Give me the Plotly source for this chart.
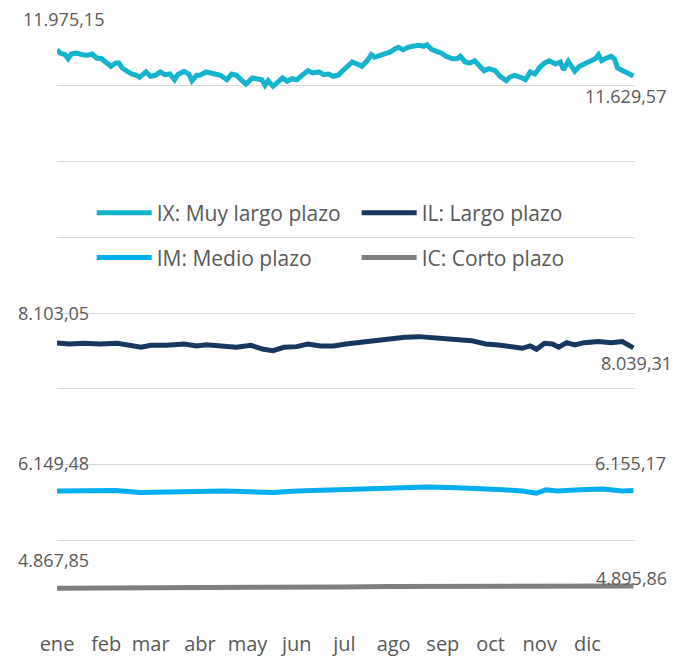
import plotly.graph_objects as go

# ---------------- data ----------------
month_days = [0, 31, 59, 90, 120, 151, 181, 212, 243, 273, 304, 334]
month_labels = ["ene", "feb", "mar", "abr", "may", "jun", "jul", "ago", "sep", "oct", "nov", "dic"]

ix_days = [0, 2, 5, 7, 9, 12, 16, 19, 22, 25, 28, 31, 34, 37, 39, 41, 44, 47, 50, 52, 54, 56, 59, 62, 65,
           68, 71, 74, 76, 80, 83, 85, 88, 90, 94, 98, 103, 107, 110, 113, 116, 119, 123, 126, 129, 131,
           133, 136, 138, 142, 145, 148, 151, 154, 158, 161, 165, 168, 171, 174, 177, 180, 186, 189, 192,
           195, 198, 200, 203, 207, 210, 213, 215, 218, 221, 224, 228, 231, 233, 236, 239, 242, 245, 249,
           252, 254, 257, 260, 263, 266, 269, 272, 276, 279, 283, 285, 288, 292, 295, 298, 301, 304, 307,
           310, 314, 317, 319, 322, 326, 329, 332, 336, 339, 341, 343, 346, 349, 351, 353, 357, 360, 363]
ix_values = [11975.15, 11932, 11910, 11857, 11919, 11932, 11910, 11902, 11919, 11866, 11857, 11814, 11757,
             11800, 11800, 11734, 11691, 11655, 11638, 11612, 11646, 11682, 11625, 11638, 11682, 11646,
             11655, 11580, 11646, 11691, 11655, 11567, 11638, 11638, 11682, 11655, 11638, 11580, 11655,
             11638, 11580, 11523, 11602, 11593, 11580, 11506, 11567, 11493, 11536, 11602, 11559, 11593,
             11580, 11638, 11699, 11668, 11682, 11646, 11655, 11625, 11638, 11699, 11814, 11787, 11757,
             11823, 11910, 11876, 11902, 11919, 11946, 11989, 12008, 11976, 12008, 12021, 12034, 12021,
             12042, 11976, 11955, 11932, 11889, 11857, 11857, 11889, 11814, 11800, 11831, 11757, 11699,
             11725, 11699, 11625, 11567, 11612, 11638, 11612, 11580, 11682, 11655, 11744, 11800, 11831,
             11787, 11814, 11712, 11823, 11691, 11757, 11787, 11831, 11857, 11910, 11831, 11866, 11889,
             11857, 11734, 11691, 11668, 11629.57]

il_days = [0, 8, 17, 27, 38, 46, 53, 59, 69, 80, 88, 94, 105, 113, 122, 130, 136, 143, 151, 158, 166, 174,
           182, 194, 207, 219, 228, 236, 249, 261, 270, 278, 286, 293, 298, 302, 307, 312, 316, 321, 326,
           332, 341, 349, 356, 360, 363]
il_values = [8103.05, 8091, 8100, 8091, 8100, 8065, 8048, 8074, 8074, 8091, 8065, 8082, 8056, 8048, 8074,
             8021, 8003, 8048, 8056, 8091, 8065, 8065, 8091, 8122, 8153, 8180, 8188, 8180, 8153, 8135,
             8091, 8078, 8056, 8034, 8065, 8021, 8100, 8091, 8048, 8108, 8078, 8108, 8122, 8108, 8122,
             8065, 8039.31]

im_days = [0, 20, 37, 52, 68, 88, 105, 122, 136, 151, 165, 179, 194, 213, 233, 252, 267, 281, 293, 302,
           308, 315, 330, 344, 356, 363]
im_values = [6149.48, 6149, 6158, 6130, 6140, 6149, 6149, 6140, 6130, 6149, 6158, 6158, 6176, 6194, 6202,
             6194, 6185, 6167, 6149, 6122, 6167, 6149, 6167, 6176, 6149, 6155.17]

ic_days = [0, 30, 60, 90, 120, 150, 180, 210, 240, 270, 300, 320, 345, 363]
ic_values = [4867.85, 4868, 4872, 4875, 4878, 4881, 4884, 4888, 4890, 4891, 4888, 4892, 4894, 4895.86]

series_names = ["IX: Muy largo plazo", "IL: Largo plazo", "IM: Medio plazo", "IC: Corto plazo"]
series_colors = ["#14B4CE", "#17375E", "#00AEEF", "#7F7F7F"]

start_labels = ["11.975,15", "8.103,05", "6.149,48", "4.867,85"]
end_labels = ["11.629,57", "8.039,31", "6.155,17", "4.895,86"]

# ---------------- figure ----------------
TEXT = "#595959"
FONT = "Open Sans"

fig = go.Figure()
all_days = [ix_days, il_days, im_days, ic_days]
all_vals = [ix_values, il_values, im_values, ic_values]
legend_ids = ["legend", "legend", "legend2", "legend2"]
for name, color, d, v, lg in zip(series_names, series_colors, all_days, all_vals, legend_ids):
    fig.add_trace(go.Scatter(x=d, y=v, name=name, mode="lines",
                             line=dict(color=color, width=5, shape="linear"),
                             legend=lg, hoverinfo="skip"))

# value labels at first / last point
start_shift = [(6, 31), (-4, 30), (-4, 28), (-4, 28)]
end_shift = [(-8, -20), (3, -15), (-3, 28), (-2, 8)]
for i in range(4):
    d, v = all_days[i], all_vals[i]
    fig.add_annotation(x=d[0], y=v[0], text=start_labels[i], showarrow=False,
                       xshift=start_shift[i][0], yshift=start_shift[i][1],
                       font=dict(family=FONT, size=18, color=TEXT))
    fig.add_annotation(x=d[-1], y=v[-1], text=end_labels[i], showarrow=False,
                       xshift=end_shift[i][0], yshift=end_shift[i][1],
                       font=dict(family=FONT, size=18, color=TEXT))

legend_common = dict(orientation="h", xanchor="left", yanchor="middle",
                     bgcolor="rgba(0,0,0,0)", entrywidth=195, entrywidthmode="pixels",
                     font=dict(family=FONT, size=21, color=TEXT), itemwidth=55)
fig.update_layout(
    width=674, height=658,
    margin=dict(l=57, r=39, t=10, b=42),
    paper_bgcolor="white", plot_bgcolor="white",
    font=dict(family=FONT, color=TEXT),
    showlegend=True,
    legend=dict(x=0.060, y=0.665, **legend_common),
    legend2=dict(x=0.060, y=0.591, **legend_common),
    xaxis=dict(range=[0, 364], tickvals=month_days, ticktext=month_labels,
               showgrid=False, zeroline=False, showline=False, automargin=False,
               ticks="outside", ticklen=10, tickcolor="rgba(0,0,0,0)",
               tickfont=dict(family=FONT, size=20, color=TEXT), fixedrange=True),
    yaxis=dict(range=[4500, 12500], tick0=4500, dtick=1000, showticklabels=False,
               showgrid=True, gridcolor="#D9D9D9", gridwidth=1, automargin=False,
               zeroline=False, showline=False, fixedrange=True),
)

fig.write_html("out.html", config={"displayModeBar": False},
               post_script="document.body.style.margin='0';")
